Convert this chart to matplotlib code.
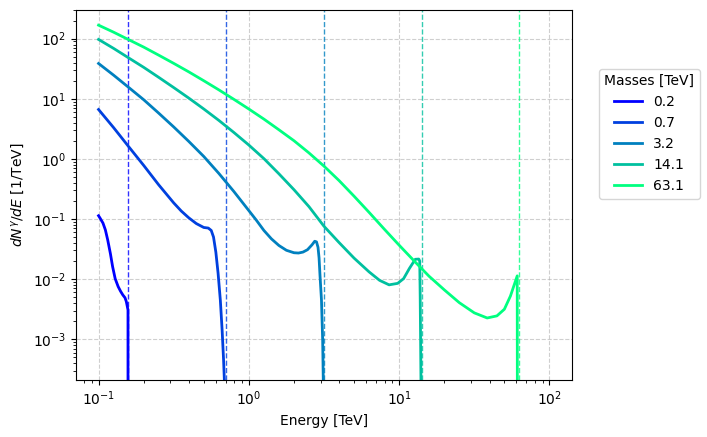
import matplotlib
matplotlib.use("Agg")
import matplotlib.pyplot as plt
import numpy as np

# dark-matter masses [TeV] and legend labels
masses = [0.158, 0.708, 3.16, 14.1, 63.1]
mass_labels = ["0.2", "0.7", "3.2", "14.1", "63.1"]

# spectra (energy [TeV], dN/dE [1/TeV]); 0 above the mass
e_02 = [0.1, 0.102, 0.107, 0.111, 0.115, 0.120, 0.124, 0.129, 0.135, 0.140,
        0.145, 0.150, 0.153, 0.157, 0.158, 100]
s_02 = [0.1135, 0.105, 0.0857, 0.0661, 0.0452, 0.0263, 0.0162, 0.0102, 0.00753,
        0.00631, 0.00547, 0.0049, 0.00424, 0.00308, 0, 0]

e_07 = [0.1, 0.126, 0.158, 0.2, 0.251, 0.316, 0.355, 0.398, 0.447, 0.501, 0.537,
        0.562, 0.582, 0.603, 0.624, 0.646, 0.664, 0.679, 0.687, 0.708, 100]
s_07 = [6.64, 3.31, 1.62, 0.776, 0.372, 0.186, 0.136, 0.105, 0.0841, 0.0724,
        0.0708, 0.0646, 0.0501, 0.0282, 0.0126, 0.00447, 0.00141, 0.000447,
        0.00021, 0, 0]

e_32 = [0.1, 0.126, 0.158, 0.2, 0.251, 0.316, 0.398, 0.501, 0.631, 0.794, 1.0,
        1.122, 1.259, 1.413, 1.585, 1.778, 1.995, 2.138, 2.291, 2.455, 2.63,
        2.742, 2.818, 2.884, 2.931, 2.972, 3.041, 3.097, 3.126, 3.16, 100]
s_32 = [38.7, 24.7, 15.6, 9.62, 5.79, 3.41, 1.96, 1.10, 0.575, 0.288, 0.138,
        0.0955, 0.0646, 0.0468, 0.0363, 0.0302, 0.0275, 0.0272, 0.0282, 0.0309,
        0.0372, 0.0427, 0.0417, 0.0339, 0.0226, 0.0118, 0.00452, 0.000977,
        0.00021, 0, 0]

e_141 = [0.1, 0.126, 0.158, 0.2, 0.251, 0.316, 0.398, 0.501, 0.631, 0.794, 1.0,
         1.26, 1.58, 2.0, 2.51, 3.16, 3.98, 5.01, 6.31, 7.41, 8.57, 9.77, 10.7,
         11.7, 12.8, 13.5, 13.7, 13.8, 13.96, 14.1, 100]
s_141 = [97.2, 68.9, 48.2, 33.3, 22.8, 15.4, 10.3, 6.78, 4.38, 2.76, 1.70, 1.01,
         0.570, 0.306, 0.161, 0.0759, 0.0407, 0.0224, 0.0132, 0.00955, 0.00804,
         0.00851, 0.0102, 0.0151, 0.0214, 0.0216, 0.020, 0.005, 0.00021, 0, 0]

e_631 = [0.1, 0.126, 0.158, 0.2, 0.251, 0.316, 0.398, 0.501, 0.631, 0.794, 1.0,
         1.26, 1.58, 2.0, 2.51, 3.16, 3.98, 5.01, 6.31, 7.94, 10.0, 12.6, 15.8,
         20.0, 25.1, 31.6, 38.5, 44.7, 50.1, 55.0, 61.0, 61.1, 63.1, 100]
s_631 = [167.9, 128.2, 96.8, 72.3, 53.3, 38.9, 28.1, 20.0, 14.1, 9.82, 6.76,
         4.59, 3.07, 2.0, 1.26, 0.759, 0.437, 0.240, 0.129, 0.0684, 0.0367,
         0.0200, 0.0112, 0.00661, 0.00407, 0.00275, 0.00226, 0.00245, 0.00316,
         0.00525, 0.01135, 0.00021, 0, 0]

energies = [e_02, e_07, e_32, e_141, e_631]
spectra = [s_02, s_07, s_32, s_141, s_631]

colors = plt.cm.winter(np.linspace(0, 1, len(masses)))

fig = plt.figure(figsize=(7.07, 4.37), dpi=100)
ax = fig.add_axes([0.1075, 0.1304, 0.7016, 0.8467])

for e, s, m, lab, c in zip(energies, spectra, masses, mass_labels, colors):
    ax.plot(e, s, color=c, lw=2, label=lab)
    ax.axvline(m, color=c, ls="--", lw=1, alpha=0.8)

ax.set_xscale("log")
ax.set_yscale("log")
ax.set_ylim(2.1e-4, 300)
ax.set_xlabel("Energy [TeV]")
ax.set_ylabel(r"$dN^{\gamma}/dE$ [1/TeV]")
ax.grid(True, which="major", ls="--", alpha=0.6)
ax.legend(title="Masses [TeV]", loc="upper left", bbox_to_anchor=(1.04, 0.86))

fig.savefig("out.png", dpi=100)
